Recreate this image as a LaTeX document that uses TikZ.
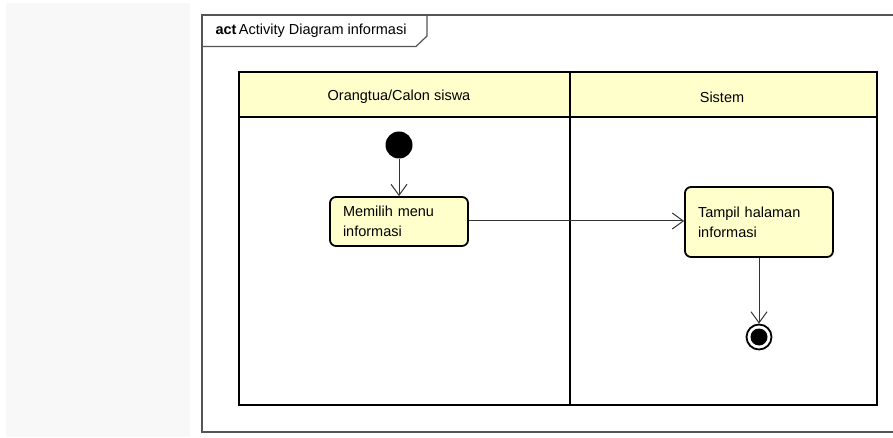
\documentclass[tikz,border=0pt]{standalone}
\usepackage{fontspec}
\setmainfont{Liberation Sans}
\usetikzlibrary{arrows.meta}

\definecolor{notefill}{HTML}{FFFFCC}
\definecolor{sidegray}{HTML}{F8F8F8}
\definecolor{framegray}{HTML}{555555}
\definecolor{flowgray}{HTML}{333333}

\tikzset{
    action/.style={draw, line width=1.8pt, rounded corners=6pt, fill=notefill,
        align=left, inner xsep=13pt, font=\fontsize{14.5}{20}\selectfont},
    flow/.style={draw=flowgray, line width=1pt, -{Straight Barb[length=11pt,width=16pt]}},
    lane/.style={line width=2.2pt},
}

\begin{document}
\begin{tikzpicture}[x=1pt, y=-1pt]
            \useasboundingbox (0,0) rectangle (893,438);
            \fill[white] (0,0) rectangle (893,438);
            \fill[sidegray] (6,3) rectangle (190,437);

            % frame and its tab
            \draw[framegray, line width=1.2pt] (893,15) -- (202,15) -- (202,432) -- (893,432);
            \draw[framegray, line width=1.2pt] (202,46.5) -- (416,46.5) -- (427,36) -- (427,15);
            \node[anchor=west, font=\fontsize{14.5}{17}\selectfont] at (212,31) (title) {\textbf{act}\,Activity Diagram informasi};

            % swimlanes
            \fill[notefill] (239,72) rectangle (877,117);
            \draw[lane] (239,72) rectangle (877,405);
            \draw[lane] (239,117) -- (877,117);
            \draw[lane] (570,72) -- (570,405);
            \node[font=\fontsize{14.5}{17}\selectfont] at (399,97) (ortu) {Orangtua/Calon siswa};
            \node[font=\fontsize{14.5}{17}\selectfont] at (722,97) (sistem) {Sistem};

            % activities
            \node[circle, fill=black, minimum size=27pt, inner sep=0pt] at (399,145) (start) {};
            \node[action, text width=112pt, minimum height=49pt] at (399,221.5) (memilih) {Memilih menu\\informasi};
            \node[action, text width=122pt, minimum height=70pt] at (759,222) (tampil) {Tampil halaman\\informasi};
            \node[circle, draw, line width=1.8pt, minimum size=25pt, inner sep=0pt,
                path picture={\fill (path picture bounding box.center) circle (8.5pt);}] at (759,337) (end) {};

            \draw[flow] (start) -- (memilih);
            \draw[flow] (memilih.east |- 0,221) -- (tampil.west |- 0,221);
            \draw[flow] (tampil) -- (end);
        \end{tikzpicture}
\end{document}
